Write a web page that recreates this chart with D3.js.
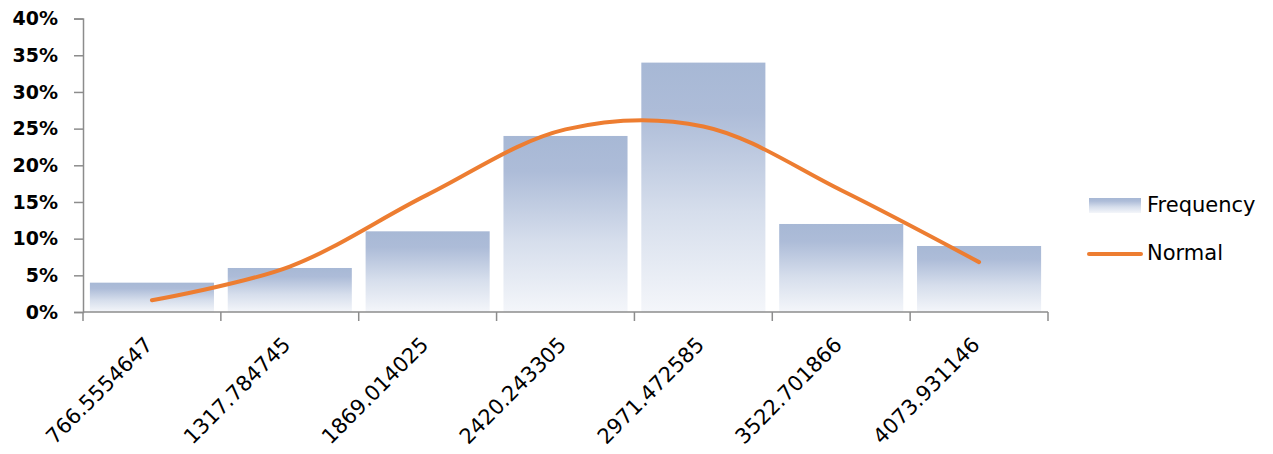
<!DOCTYPE html>
<html>
<head>
<meta charset="utf-8">
<script src="https://cdn.jsdelivr.net/npm/d3@7"></script>
<style>
  html, body { margin: 0; padding: 0; background: #fff; }
  svg { display: block; }
</style>
</head>
<body>
<svg id="chart" width="1273" height="454"></svg>
<script>
// Histogram bins (upper bin edges), observed frequency share and fitted normal share, in %
const categories = ["766.5554647", "1317.784745", "1869.014025", "2420.243305",
                    "2971.472585", "3522.701866", "4073.931146"];
const frequency = [4, 6, 11, 24, 34, 12, 9];
const normal = [1.6, 6.2, 16.0, 24.9, 25.3, 16.6, 6.8];
const yTicks = [0, 5, 10, 15, 20, 25, 30, 35, 40];
const legendItems = ["Frequency", "Normal"];

const svg = d3.select("#chart");
const plot = { left: 83, right: 1048, top: 18.6, bottom: 312 };
const axisColor = "#8c8c8c";
const fontFamily = "'DejaVu Sans', sans-serif";

const x = d3.scaleBand()
  .domain(categories)
  .range([plot.left, plot.right])
  .paddingInner(0.1)
  .paddingOuter(0.05);

const y = d3.scaleLinear().domain([0, 40]).range([plot.bottom, plot.top]);

// Vertical gradient used for each bar and the legend swatch
const defs = svg.append("defs");
const grad = defs.append("linearGradient")
  .attr("id", "barFill")
  .attr("x1", 0).attr("y1", 0).attr("x2", 0).attr("y2", 1);
grad.append("stop").attr("offset", "0%").attr("stop-color", "#a7b8d5");
grad.append("stop").attr("offset", "20%").attr("stop-color", "#adbcd8");
grad.append("stop").attr("offset", "60%").attr("stop-color", "#d6deec");
grad.append("stop").attr("offset", "100%").attr("stop-color", "#f4f6fa");

// Bars
svg.append("g")
  .selectAll("rect")
  .data(frequency)
  .join("rect")
  .attr("x", (d, i) => x(categories[i]))
  .attr("y", d => y(d))
  .attr("width", x.bandwidth())
  .attr("height", d => y(0) - y(d))
  .attr("fill", "url(#barFill)");

// Y axis
const yAxis = d3.axisLeft(y)
  .tickValues(yTicks)
  .tickSize(9)
  .tickPadding(16)
  .tickFormat(d => d + "%");
const gy = svg.append("g")
  .attr("transform", `translate(${plot.left},0)`)
  .call(yAxis);
gy.select(".domain").attr("stroke", axisColor).attr("stroke-width", 1.5);
gy.selectAll(".tick line").attr("stroke", axisColor).attr("stroke-width", 1.5);
gy.selectAll(".tick text")
  .attr("fill", "#000")
  .style("font-family", fontFamily)
  .style("font-size", "19px")
  .style("font-weight", "bold");

// X axis line with ticks on the bin boundaries
const step = x.step();
const boundaries = d3.range(categories.length + 1)
  .map(i => plot.left + i * step);
const gx = svg.append("g");
gx.append("line")
  .attr("x1", plot.left).attr("x2", plot.right)
  .attr("y1", plot.bottom).attr("y2", plot.bottom)
  .attr("stroke", axisColor).attr("stroke-width", 1.5);
gx.selectAll("line.tick")
  .data(boundaries)
  .join("line")
  .attr("class", "tick")
  .attr("x1", d => d).attr("x2", d => d)
  .attr("y1", plot.bottom).attr("y2", plot.bottom + 9)
  .attr("stroke", axisColor).attr("stroke-width", 1.5);

// Rotated category labels
gx.selectAll("text")
  .data(categories)
  .join("text")
  .attr("transform", d => `translate(${x(d) + x.bandwidth() / 2 + 2},${plot.bottom + 34}) rotate(-45)`)
  .attr("text-anchor", "end")
  .style("font-family", fontFamily)
  .style("font-size", "21px")
  .attr("fill", "#000")
  .text(d => d);

// Fitted normal curve
const line = d3.line()
  .x((d, i) => x(categories[i]) + x.bandwidth() / 2)
  .y(d => y(d))
  .curve(d3.curveCatmullRom.alpha(0.5));
svg.append("path")
  .datum(normal)
  .attr("d", line)
  .attr("fill", "none")
  .attr("stroke", "#ed7d31")
  .attr("stroke-width", 4)
  .attr("stroke-linecap", "round")
  .attr("stroke-linejoin", "round");

// Legend
const legend = svg.append("g").attr("transform", "translate(1089,0)");
legend.append("rect")
  .attr("x", 0).attr("y", 198)
  .attr("width", 52).attr("height", 15)
  .attr("fill", "url(#barFill)");
legend.append("line")
  .attr("x1", 0).attr("x2", 52)
  .attr("y1", 254).attr("y2", 254)
  .attr("stroke", "#ed7d31").attr("stroke-width", 4)
  .attr("stroke-linecap", "round");
legend.selectAll("text")
  .data(legendItems)
  .join("text")
  .attr("x", 58)
  .attr("y", (d, i) => [205, 253][i])
  .attr("dy", "0.35em")
  .style("font-family", fontFamily)
  .style("font-size", "21px")
  .attr("fill", "#000")
  .text(d => d);
</script>
</body>
</html>
